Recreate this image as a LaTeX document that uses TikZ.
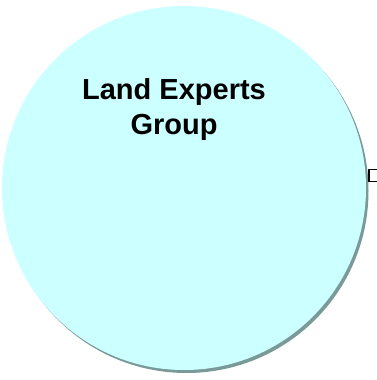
\documentclass[tikz,border=0pt]{standalone}
\usepackage{fontspec}
\setmainfont{Liberation Sans}
\usetikzlibrary{positioning}
\definecolor{groupfill}{HTML}{CCFFFF}
\definecolor{groupshadow}{HTML}{7A9A9A}

\begin{document}
\begin{tikzpicture}[x=1pt, y=1pt,
  group/.style={circle, fill=groupfill, minimum size=364pt, inner sep=0pt},
  groupshade/.style={circle, fill=groupshadow, minimum size=364pt, inner sep=0pt},
  title/.style={align=center, font=\bfseries\fontsize{29}{35}\selectfont},
  port/.style={draw, line width=1.5pt, minimum size=12pt, inner sep=0pt}
]
\useasboundingbox (0,0) rectangle (377,380);

% Shadow under the circle
\node[groupshade] (shadow) at (186.5,189) {};

% Land Experts Group circle
\node[group] (leg) at (184,192) {};

% Title
\node[title] (legtitle) at (174,270) {Land Experts\\Group};

% Port at the right edge
\node[port] (port) at (375,204.5) {};

\end{tikzpicture}
\end{document}
